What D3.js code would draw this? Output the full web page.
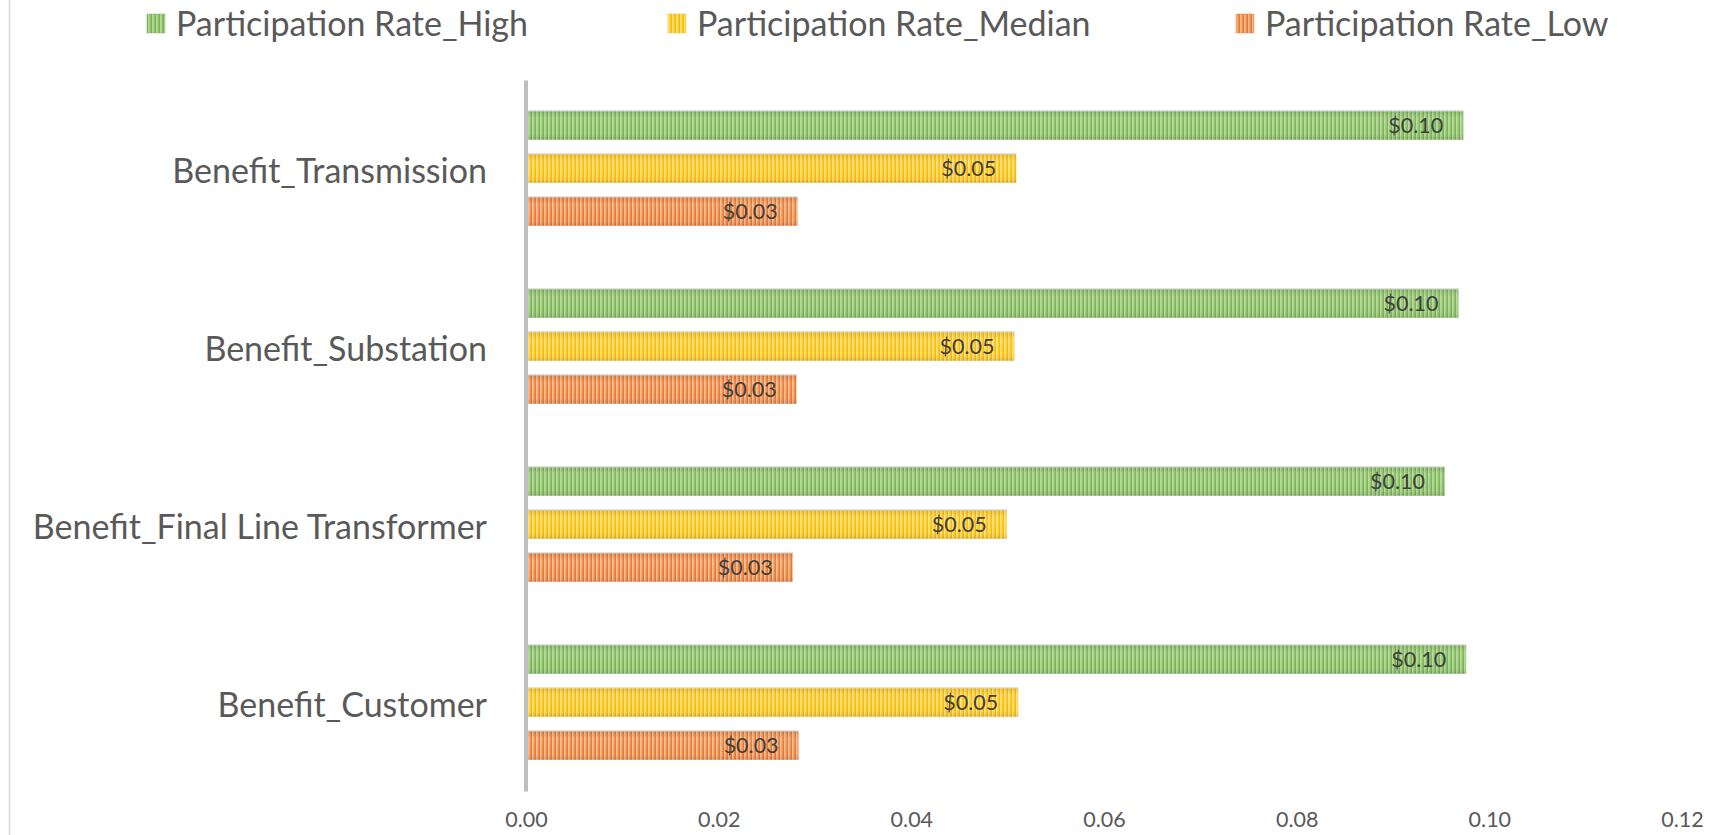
<!DOCTYPE html>
<html>
<head>
<meta charset="utf-8">
<script src="https://cdn.jsdelivr.net/npm/d3@7"></script>
<style>
  html, body { margin: 0; padding: 0; background: #ffffff; }
  svg { display: block; font-family: Lato, "Open Sans", sans-serif; }
  .tick-label { fill: #595959; font-size: 21.5px; }
</style>
</head>
<body>
<div id="chart"></div>
<script>
const categories = ['Benefit_Transmission', 'Benefit_Substation', 'Benefit_Final Line Transformer', 'Benefit_Customer'];
const seriesNames = ['Participation Rate_High', 'Participation Rate_Median', 'Participation Rate_Low'];
const highValues = [0.0973, 0.0968, 0.0954, 0.0976];
const medianValues = [0.0509, 0.0507, 0.0499, 0.0511];
const lowValues = [0.0282, 0.0281, 0.0277, 0.0283];
const xTicks = [0, 0.02, 0.04, 0.06, 0.08, 0.10, 0.12];

document.addEventListener('DOMContentLoaded', () => {
  const width = 1734;
  const height = 835;
  const plot = { left: 526, right: 1682, top: 79.5, bottom: 791.5 };

  const seriesValues = [highValues, medianValues, lowValues];
  const palette = [
    { base: '#8cc267', light: '#b6d89d', dark: '#74b04c' },
    { base: '#ffc923', light: '#ffe17e', dark: '#f5b800' },
    { base: '#f08d4a', light: '#f7bb90', dark: '#e3742e' },
  ];

  const rows = [];
  categories.forEach((category, ci) => {
    seriesNames.forEach((name, si) => {
      rows.push({ category, series: name, index: si, value: seriesValues[si][ci] });
    });
  });

  const svg = d3.select('#chart')
    .append('svg')
    .attr('width', width)
    .attr('height', height);

  svg.append('rect')
    .attr('width', width)
    .attr('height', height)
    .attr('fill', '#ffffff');

  // chart frame edge visible on the left
  svg.append('line')
    .attr('x1', 9.5).attr('x2', 9.5)
    .attr('y1', 0).attr('y2', height)
    .attr('stroke', '#d9d9d9')
    .attr('stroke-width', 1.5);

  const defs = svg.append('defs');

  palette.forEach((colors, i) => {
    const pattern = defs.append('pattern')
      .attr('id', `stripes-${i}`)
      .attr('patternUnits', 'userSpaceOnUse')
      .attr('width', 4)
      .attr('height', 10);
    pattern.append('rect').attr('width', 4).attr('height', 10).attr('fill', colors.base);
    pattern.append('rect').attr('x', 0).attr('width', 1.6).attr('height', 10).attr('fill', colors.light);
    pattern.append('rect').attr('x', 3.2).attr('width', 0.8).attr('height', 10).attr('fill', colors.dark);
  });

  const shade = defs.append('linearGradient')
    .attr('id', 'bar-shade')
    .attr('x1', 0).attr('x2', 0).attr('y1', 0).attr('y2', 1);
  shade.append('stop').attr('offset', '0%').attr('stop-color', '#000').attr('stop-opacity', 0.1);
  shade.append('stop').attr('offset', '25%').attr('stop-color', '#fff').attr('stop-opacity', 0.08);
  shade.append('stop').attr('offset', '70%').attr('stop-color', '#fff').attr('stop-opacity', 0);
  shade.append('stop').attr('offset', '100%').attr('stop-color', '#000').attr('stop-opacity', 0.12);

  const x = d3.scaleLinear()
    .domain([0, 0.12])
    .range([plot.left, plot.right]);

  const y = d3.scaleBand()
    .domain(categories)
    .range([plot.top, plot.bottom]);

  const ySeries = d3.scaleBand()
    .domain(seriesNames)
    .range([0, y.bandwidth()])
    .paddingInner(0.337)
    .paddingOuter(0.738);

  const bars = svg.append('g').attr('class', 'bars');

  bars.selectAll('.bar')
    .data(rows)
    .enter()
    .append('rect')
    .attr('class', 'bar')
    .attr('x', x(0))
    .attr('y', (d) => y(d.category) + ySeries(d.series))
    .attr('width', (d) => x(d.value) - x(0))
    .attr('height', ySeries.bandwidth())
    .attr('fill', (d) => `url(#stripes-${d.index})`);

  bars.selectAll('.bar-shade')
    .data(rows)
    .enter()
    .append('rect')
    .attr('class', 'bar-shade')
    .attr('x', x(0))
    .attr('y', (d) => y(d.category) + ySeries(d.series))
    .attr('width', (d) => x(d.value) - x(0))
    .attr('height', ySeries.bandwidth())
    .attr('fill', 'url(#bar-shade)');

  bars.selectAll('.bar-edge')
    .data(rows)
    .enter()
    .append('line')
    .attr('class', 'bar-edge')
    .attr('x1', x(0))
    .attr('x2', (d) => x(d.value))
    .attr('y1', (d) => y(d.category) + ySeries(d.series) - 0.5)
    .attr('y2', (d) => y(d.category) + ySeries(d.series) - 0.5)
    .attr('stroke', '#d4d4d4')
    .attr('stroke-width', 1.2);

  bars.selectAll('.value-label')
    .data(rows)
    .enter()
    .append('text')
    .attr('class', 'value-label')
    .attr('x', (d) => x(d.value) - 20)
    .attr('y', (d) => y(d.category) + ySeries(d.series) + ySeries.bandwidth() / 2)
    .attr('dy', '0.36em')
    .attr('text-anchor', 'end')
    .attr('fill', '#404040')
    .attr('font-size', '21.5px')
    .text((d) => d3.format('$.2f')(d.value));

  // vertical category axis line
  svg.append('line')
    .attr('x1', x(0)).attr('x2', x(0))
    .attr('y1', plot.top + 1).attr('y2', plot.bottom)
    .attr('stroke', '#bfbfbf')
    .attr('stroke-width', 4);

  svg.append('g')
    .attr('class', 'category-labels')
    .selectAll('text')
    .data(categories)
    .enter()
    .append('text')
    .attr('x', 487)
    .attr('y', (d) => y(d) + y.bandwidth() / 2 + 2)
    .attr('dy', '0.36em')
    .attr('text-anchor', 'end')
    .attr('fill', '#595959')
    .attr('font-size', '34px')
    .text((d) => d);

  const xAxis = svg.append('g')
    .attr('transform', `translate(0,${plot.bottom})`)
    .call(d3.axisBottom(x)
      .tickValues(xTicks)
      .tickSize(0)
      .tickPadding(20)
      .tickFormat(d3.format('.2f')));
  xAxis.select('.domain').remove();
  xAxis.selectAll('text')
    .attr('class', 'tick-label')
    .attr('fill', '#595959')
    .style('font-family', 'Lato, "Open Sans", sans-serif');

  const legendX = [147, 668, 1236];
  const legend = svg.append('g').attr('class', 'legend');
  seriesNames.forEach((name, i) => {
    legend.append('rect')
      .attr('x', legendX[i])
      .attr('y', 14)
      .attr('width', 18)
      .attr('height', 19)
      .attr('fill', `url(#stripes-${i})`)
      .attr('stroke', palette[i].dark)
      .attr('stroke-opacity', 0.5)
      .attr('stroke-width', 0.8);
    legend.append('text')
      .attr('x', legendX[i] + 29)
      .attr('y', 24)
      .attr('dy', '0.36em')
      .attr('fill', '#595959')
      .attr('font-size', '34px')
      .text(name);
  });
});
</script>
</body>
</html>
